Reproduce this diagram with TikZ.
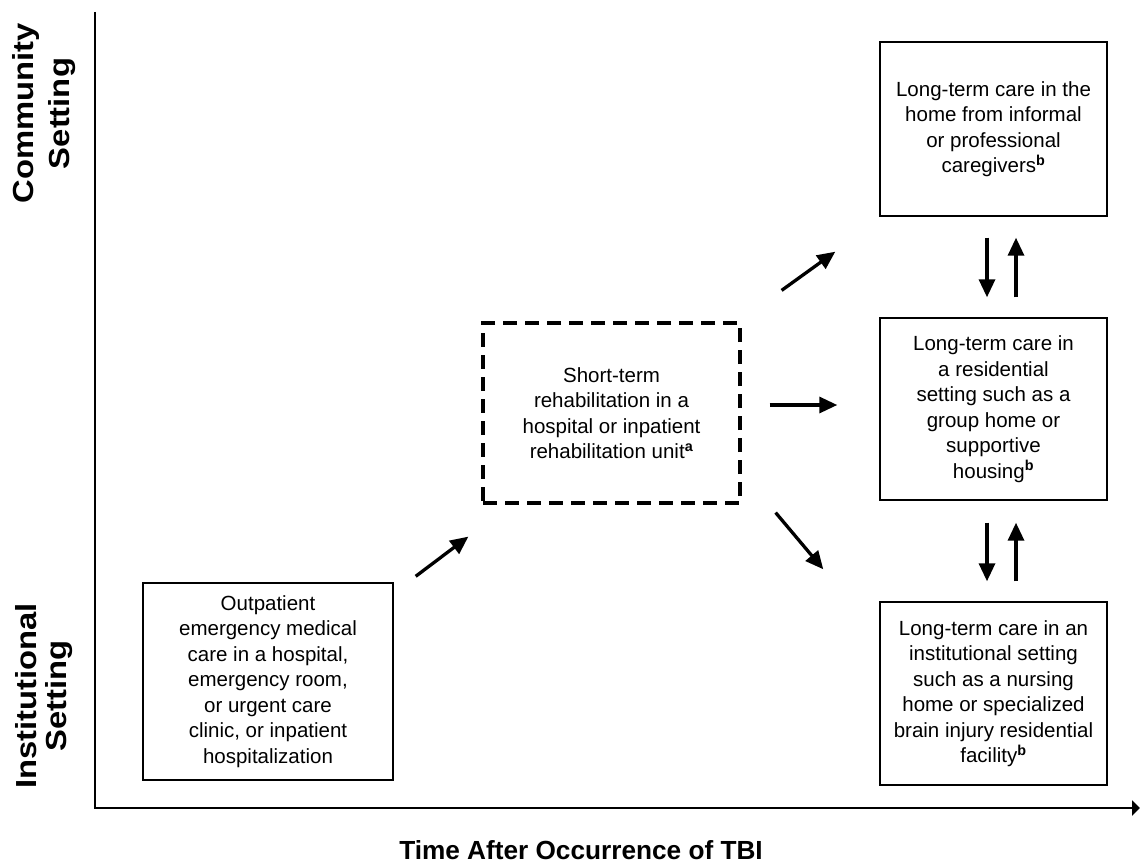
\documentclass[tikz,border=0pt]{standalone}
\usepackage{fontspec}
\usepackage{graphicx}
\setmainfont{Liberation Sans}
\usetikzlibrary{arrows.meta,calc}
\begin{document}
\begin{tikzpicture}[x=1pt,y=-1pt,
  box/.style={draw, line width=1.4pt, align=center, inner sep=0pt,
    font=\fontsize{20.5}{25.5}\selectfont},
  dbox/.style={box, line width=3.2pt, dash pattern=on 14pt off 8pt},
  lab/.style={align=center, font=\bfseries\fontsize{29}{34}\selectfont},
  tlab/.style={font=\bfseries\fontsize{26.2}{30}\selectfont},
  arr/.style={line width=3.3pt, -{Triangle[length=18pt,width=16pt]}},
  axis/.style={line width=2.5pt, -{Triangle[length=8pt,width=15pt]}}
]
\useasboundingbox (0,0) rectangle (1140,867);

% axes
\coordinate (ytop) at (95,12);
\coordinate (origin) at (95,808);
\coordinate (xend) at (1140,808);
\draw[axis] (ytop) -- (origin) -- (xend);

% axis labels
\node[lab, rotate=90] (comm) at (44,113.5) {\scalebox{1.13}[1]{\shortstack{Community\\[6pt]Setting}}};
\node[lab, rotate=90] (instl) at (44,696) {\scalebox{1.13}[1]{\shortstack{Institutional\\[6pt]Setting}}};
\node[tlab] (time) at (581,850) {Time After Occurrence of TBI};

% boxes
\node[box, minimum width=250pt, minimum height=197pt] (out) at (268,681.5)
  {Outpatient\\emergency medical\\care in a hospital,\\emergency room,\\or urgent care\\clinic, or inpatient\\hospitalization};
\node[dbox, minimum width=257pt, minimum height=180pt] (rehab) at (611.5,413)
  {Short-term\\rehabilitation in a\\hospital or inpatient\\rehabilitation unit\textsuperscript{\bfseries a}};
\node[box, minimum width=227pt, minimum height=174pt] (home) at (993.5,129)
  {Long-term care in the\\home from informal\\or professional\\caregivers\textsuperscript{\bfseries b}};
\node[box, minimum width=227pt, minimum height=182pt] (resid) at (993.5,409)
  {Long-term care in\\a residential\\setting such as a\\group home or\\supportive\\housing\textsuperscript{\bfseries b}};
\node[box, minimum width=227pt, minimum height=183pt] (inst) at (993.5,693.5)
  {Long-term care in an\\institutional setting\\such as a nursing\\home or specialized\\brain injury residential\\facility\textsuperscript{\bfseries b}};

% flow arrows
\draw[arr] ($(out.north east)+(22,-6)$) -- ($(rehab.south west)+(-13,32)$);
\draw[arr] ($(rehab.north east)+(40,-31)$) -- ($(home.south west)+(-44,35)$);
\draw[arr] ($(rehab.east)+(28,-8)$) -- ($(resid.west)+(-42,-4)$);
\draw[arr] ($(rehab.south east)+(34,8)$) -- ($(inst.north west)+(-56,-32)$);

% two-way arrows
\draw[arr] ($(home.south)+(-6.5,21)$) -- ($(resid.north)+(-6.5,-20)$);
\draw[arr] ($(resid.north)+(22.5,-20)$) -- ($(home.south)+(22.5,21)$);
\draw[arr] ($(resid.south)+(-6.5,22)$) -- ($(inst.north)+(-6.5,-20)$);
\draw[arr] ($(inst.north)+(22.5,-20)$) -- ($(resid.south)+(22.5,22)$);
\end{tikzpicture}
\end{document}
